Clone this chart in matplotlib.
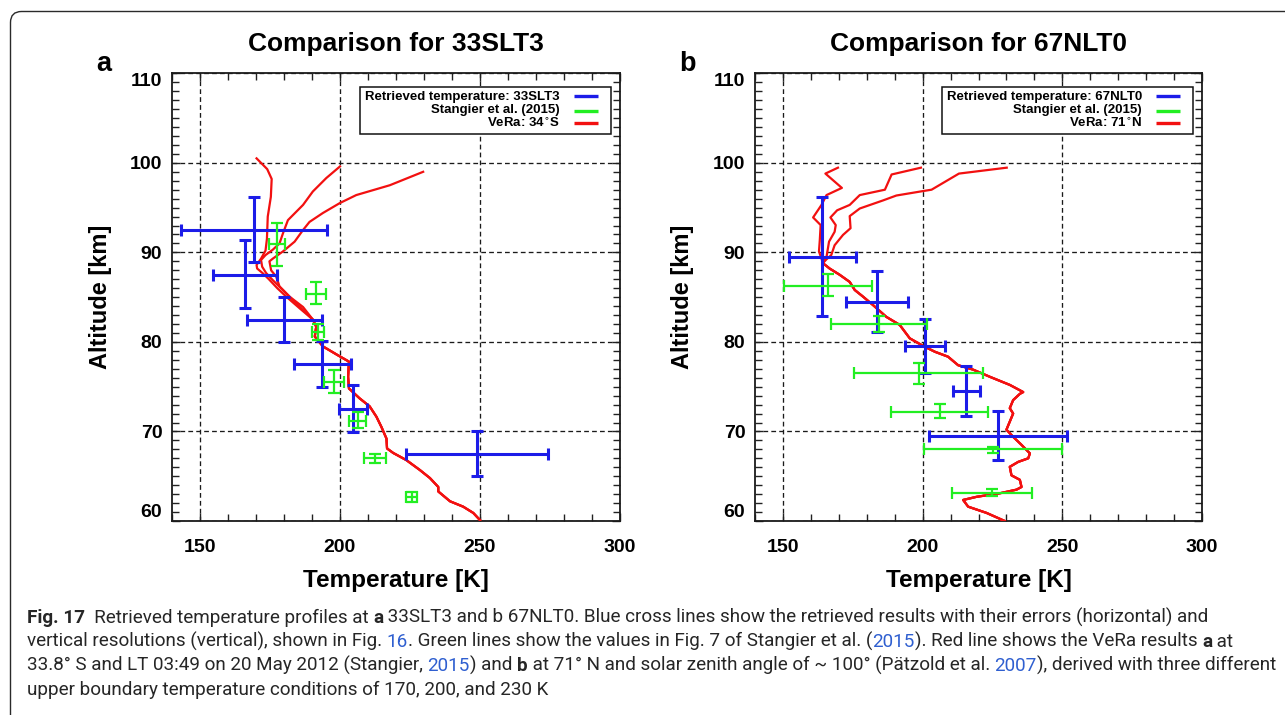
import numpy as np
import matplotlib
matplotlib.use("Agg")
import matplotlib.pyplot as plt
from matplotlib import font_manager
from matplotlib.font_manager import FontProperties
from matplotlib.lines import Line2D
from matplotlib.patches import FancyBboxPatch, Rectangle
from matplotlib.transforms import IdentityTransform
from matplotlib.ticker import MultipleLocator

W, H, DPI = 1285, 715, 100

# ---------------- panel a: 33SLT3 ----------------
ret_a_T = [169.2, 166.1, 180.1, 193.7, 204.6, 248.9]
ret_a_alt = [92.5, 87.5, 82.5, 77.5, 72.5, 67.5]
ret_a_xerr = [26.0, 11.5, 13.3, 10.2, 5.1, 25.4]
ret_a_lo = [88.9, 83.75, 80.0, 74.95, 69.9, 65.05]
ret_a_hi = [96.2, 91.35, 85.05, 80.1, 75.15, 70.1]

stg_a_T = [177.4, 191.4, 192.1, 197.8, 206.3, 212.4, 225.6]
stg_a_alt = [90.9, 85.4, 81.15, 75.55, 71.2, 67.0, 62.65]
stg_a_xerr = [2.8, 3.65, 2.15, 3.5, 3.15, 3.85, 1.95]
stg_a_lo = [88.5, 84.2, 80.2, 74.25, 70.35, 66.45, 62.1]
stg_a_hi = [93.25, 86.65, 82.0, 76.85, 72.15, 67.45, 63.2]

# VeRa 34 S, upper parts for boundary temperatures 170 / 200 / 230 K
vera_a_170_T = [170.2, 174.0, 175.6, 175.3, 174.2, 173.9, 173.4, 171.8, 170.2, 170.4, 172.3, 174.6, 177.6, 181.0, 185.6]
vera_a_170_alt = [100.5, 99.3, 98.2, 96.2, 94.0, 91.5, 90.2, 89.3, 88.6, 88.2, 87.7, 87.0, 86.0, 85.0, 83.75]
vera_a_200_T = [200.0, 195.1, 190.3, 186.8, 181.4, 179.6, 178.4, 176.0, 173.4, 171.8, 172.2, 173.6, 176.0, 179.6, 184.4]
vera_a_200_alt = [99.6, 98.3, 96.8, 95.3, 93.6, 92.1, 91.0, 90.3, 89.7, 89.15, 88.4, 87.7, 86.9, 85.8, 84.3]
vera_a_230_T = [229.7, 217.8, 205.8, 199.9, 193.9, 189.1, 186.8, 183.8, 179.6, 176.0, 174.8, 175.4, 177.2, 178.4, 182.0, 186.8]
vera_a_230_alt = [99.0, 97.5, 96.4, 95.5, 94.4, 93.4, 92.5, 91.2, 90.1, 89.3, 89.0, 88.0, 87.3, 86.2, 85.05, 83.9]
# shared lower part
vera_a_low_T = [190.3, 191.5, 191.0, 193.9, 199.3, 203.2, 202.9, 203.2, 207.0, 210.6, 213.0, 214.8, 216.6,
                216.8, 219.0, 223.7, 228.5, 232.1, 235.1, 235.1, 239.3, 244.0, 247.6, 250.0]
vera_a_low_alt = [82.5, 81.7, 80.6, 79.5, 78.5, 77.8, 76.1, 74.8, 73.7, 72.8, 71.65, 70.5, 69.2,
                  68.1, 67.6, 66.8, 65.7, 64.8, 63.8, 63.3, 62.2, 61.6, 60.9, 60.1]

# ---------------- panel b: 67NLT0 ----------------
ret_b_T = [164.1, 183.55, 200.95, 215.7, 226.9]
ret_b_alt = [89.5, 84.5, 79.5, 74.5, 69.5]
ret_b_xerr = [11.9, 11.05, 7.15, 5.0, 24.7]
ret_b_lo = [82.9, 81.15, 76.5, 71.75, 66.8]
ret_b_hi = [96.2, 87.9, 82.55, 77.3, 72.25]

stg_b_T = [166.2, 184.35, 198.55, 206.05, 225.25, 224.9]
stg_b_alt = [86.3, 82.05, 76.5, 72.2, 68.0, 63.15]
stg_b_xerr = [15.8, 17.05, 23.15, 17.45, 24.75, 14.3]
stg_b_lo = [85.15, 81.15, 75.3, 71.45, 67.55, 62.8]
stg_b_hi = [87.55, 82.9, 77.7, 73.05, 68.3, 63.55]

vera_b_170_T = [169.7, 165.2, 171.1, 165.6, 163.8, 160.8, 163.5, 163.2, 162.9, 163.8]
vera_b_170_alt = [99.46, 98.8, 97.2, 96.4, 95.3, 93.9, 93.05, 91.4, 90.1, 89.3]
vera_b_200_T = [199.4, 188.9, 186.5, 177.5, 173.9, 169.4, 167.0, 168.9, 168.5, 166.5, 165.6]
vera_b_200_alt = [99.46, 98.7, 97.0, 96.4, 95.3, 94.7, 93.9, 93.05, 92.3, 91.2, 89.5]
vera_b_230_T = [230.1, 213.0, 203.2, 200.2, 190.6, 185.8, 177.5, 173.9, 174.2, 171.5, 168.5, 167.3, 165.5]
vera_b_230_alt = [99.46, 98.8, 97.0, 96.85, 96.35, 95.8, 94.9, 94.05, 92.7, 91.95, 90.8, 89.7, 89.2]
vera_b_low_T = [164.3, 166.7, 170.3, 173.9, 175.7, 178.7, 182.3, 187.0, 191.8, 195.4, 200.2, 204.4, 209.1,
                212.7, 218.1, 224.1, 231.2, 236.0, 234.8, 232.4, 231.2, 232.4, 231.2, 230.0, 232.4,
                235.4, 238.4, 237.8, 234.2, 231.2, 231.8, 234.8, 235.4, 233.6, 227.7, 219.3, 214.5,
                216.3, 222.9, 229.4]
vera_b_low_alt = [88.8, 88.2, 87.5, 86.7, 85.8, 85.05, 84.1, 82.8, 81.9, 80.4, 79.55, 78.9, 78.35,
                  77.4, 76.9, 76.1, 75.2, 74.4, 74.2, 73.5, 72.6, 72.0, 71.1, 70.2, 69.4,
                  68.5, 67.55, 67.0, 66.6, 66.05, 65.1, 64.6, 63.8, 63.5, 63.1, 62.7, 62.35,
                  61.6, 60.9, 60.0]

x_ticks = [150, 200, 250, 300]
y_ticks = [60, 70, 80, 90, 100, 110]

titles = ["Comparison for 33SLT3", "Comparison for 67NLT0"]
panel_letters = ["a", "b"]
legend_labels_a = ["Retrieved temperature: 33SLT3", "Stangier et al. (2015)", "VeRa: 34$^{\\circ}$S"]
legend_labels_b = ["Retrieved temperature: 67NLT0", "Stangier et al. (2015)", "VeRa: 71$^{\\circ}$N"]

caption_lines = [
    [("Fig. 17", "b"), ("  Retrieved temperature profiles at ", "r"), ("a", "b"),
     (" 33SLT3 and b 67NLT0. Blue cross lines show the retrieved results with their errors (horizontal) and", "r")],
    [("vertical resolutions (vertical), shown in Fig. ", "r"), ("16", "l"),
     (". Green lines show the values in Fig. 7 of Stangier et al. (", "r"), ("2015", "l"),
     ("). Red line shows the VeRa results ", "r"), ("a", "b"), (" at", "r")],
    [("33.8\u00b0 S and LT 03:49 on 20 May 2012 (Stangier, ", "r"), ("2015", "l"), (") and ", "r"),
     ("b", "b"), (" at 71\u00b0 N and solar zenith angle of ~ 100\u00b0 (P\u00e4tzold et al. ", "r"),
     ("2007", "l"), ("), derived with three different", "r")],
    [("upper boundary temperature conditions of 170, 200, and 230 K", "r")],
]

BLUE = "#1c1ce8"
GREEN = "#22ee22"
RED = "#f21010"
FONT = "Liberation Sans"


def pick_family(names):
    for name in names:
        try:
            font_manager.findfont(FontProperties(family=name), fallback_to_default=False)
            return name
        except Exception:
            continue
    return "DejaVu Sans"


CAP_FONT = pick_family(["Liberation Sans Narrow", "Roboto", "Open Sans"])

fig = plt.figure(figsize=(W / DPI, H / DPI), dpi=DPI)
fig.patch.set_facecolor("white")


def fx(x):
    return x / W


def fy(y):
    return 1 - y / H


def px_axes(left, top, right, bottom):
    return fig.add_axes([left / W, 1 - bottom / H, (right - left) / W, (bottom - top) / H])


def cross(ax, T, alt, xerr, lo, hi, color, lw, cap):
    T = np.asarray(T); alt = np.asarray(alt)
    yerr = [alt - np.asarray(lo), np.asarray(hi) - alt]
    ax.errorbar(T, alt, xerr=xerr, yerr=yerr, fmt="none", ecolor=color,
                elinewidth=lw, capsize=cap, capthick=lw, zorder=4)


def style_axes(ax):
    ax.set_xlim(140, 300)
    ax.set_ylim(60, 110)
    ax.set_xticks(x_ticks)
    ax.set_yticks(y_ticks)
    ax.xaxis.set_minor_locator(MultipleLocator(10))
    ax.yaxis.set_minor_locator(MultipleLocator(1))
    ax.tick_params(which="both", direction="in", top=True, right=True, width=1.0, color="#222222")
    ax.tick_params(which="major", length=6)
    ax.tick_params(which="minor", length=5)
    ax.tick_params(axis="x", which="major", pad=13)
    ax.tick_params(axis="y", which="major", pad=7)
    for lab in ax.get_xticklabels() + ax.get_yticklabels():
        lab.set_fontfamily(FONT)
        lab.set_fontweight("bold")
        lab.set_fontsize(14)
    for tk in ax.yaxis.get_major_ticks():
        v = tk.get_loc()
        if v == 110:
            tk.label1.set_va("top")
        elif v == 60:
            tk.label1.set_va("bottom")
    ax.grid(which="major", color="#1a1a1a", linestyle=(0, (3.6, 2.4)), linewidth=0.95)
    for sp in ax.spines.values():
        sp.set_linewidth(1.3)
        sp.set_color("#1a1a1a")


def legend_box(right, labels):
    """Legend with right-aligned labels and the line samples on the right."""
    fig.add_artist(Rectangle((fx(right - 260), fy(134)), 251 / W, (134 - 86.7) / H,
                             transform=fig.transFigure, facecolor="white",
                             edgecolor="#111111", linewidth=1.1, zorder=6))
    colors = [BLUE, GREEN, RED]
    text_base = [100, 113.5, 127]
    line_y = [95.7, 110.5, 123.3]
    for lab, c, yb, yl in zip(labels, colors, text_base, line_y):
        fig.text(fx(right - 60), fy(yb), lab, ha="right", va="baseline", zorder=7,
                 fontfamily=FONT, fontweight="bold", fontsize=9.5)
        fig.add_artist(Line2D([fx(right - 46.5), fx(right - 22)], [fy(yl), fy(yl)],
                              transform=fig.transFigure, color=c, lw=2.4, zorder=7,
                              solid_capstyle="butt"))


panels = [
    dict(box=(172, 73.3, 620, 521),
         ret=(ret_a_T, ret_a_alt, ret_a_xerr, ret_a_lo, ret_a_hi),
         stg=(stg_a_T, stg_a_alt, stg_a_xerr, stg_a_lo, stg_a_hi),
         vera=[(vera_a_170_T, vera_a_170_alt), (vera_a_200_T, vera_a_200_alt), (vera_a_230_T, vera_a_230_alt)],
         low=(vera_a_low_T, vera_a_low_alt),
         labels=legend_labels_a),
    dict(box=(755, 73.3, 1202, 521),
         ret=(ret_b_T, ret_b_alt, ret_b_xerr, ret_b_lo, ret_b_hi),
         stg=(stg_b_T, stg_b_alt, stg_b_xerr, stg_b_lo, stg_b_hi),
         vera=[(vera_b_170_T, vera_b_170_alt), (vera_b_200_T, vera_b_200_alt), (vera_b_230_T, vera_b_230_alt)],
         low=(vera_b_low_T, vera_b_low_alt),
         labels=legend_labels_b),
]

for i, p in enumerate(panels):
    left, top, right, bottom = p["box"]
    ax = px_axes(left, top, right, bottom)
    for upT, upA in p["vera"]:
        ax.plot(np.concatenate([upT, p["low"][0]]), np.concatenate([upA, p["low"][1]]),
                color=RED, lw=1.6, zorder=3)
    cross(ax, *p["ret"], color=BLUE, lw=2.2, cap=4.6)
    cross(ax, *p["stg"], color=GREEN, lw=1.6, cap=4.0)
    style_axes(ax)
    legend_box(right, p["labels"])

    cx = (left + right) / 2
    fig.text(fx(cx), fy(51), titles[i], ha="center", va="baseline",
             fontfamily=FONT, fontweight="bold", fontsize=19)
    fig.text(fx(left - 76), fy(71), panel_letters[i], ha="left", va="baseline",
             fontfamily=FONT, fontweight="bold", fontsize=19.5)
    fig.text(fx(cx), fy(587), "Temperature [K]", ha="center", va="baseline",
             fontfamily=FONT, fontweight="bold", fontsize=17.5)
    fig.text(fx(left - 72), fy(297), "Altitude [km]", ha="center", va="center", rotation=90,
             fontfamily=FONT, fontweight="bold", fontsize=17)

# rounded frame around the figure
frame = FancyBboxPatch((10.5, -12), 1310, 715 - 11.5 + 12,
                       boxstyle="round,pad=0,rounding_size=11",
                       transform=IdentityTransform(), facecolor="none",
                       edgecolor="#2a2a2a", linewidth=1.0)
fig.patches.append(frame)

# caption with mixed styles
fig.canvas.draw()
renderer = fig.canvas.get_renderer()
CAP_COLOR = "#262626"
LINK_COLOR = "#2f5fd0"


def cap_prop(style, size):
    return FontProperties(family=CAP_FONT, weight="bold" if style == "b" else "normal", size=size)


def advance(s, prop):
    w1 = renderer.get_text_width_height_descent("|" + s + "|", prop, ismath=False)[0]
    w0 = renderer.get_text_width_height_descent("||", prop, ismath=False)[0]
    return w1 - w0


def line_width(pieces, size):
    return sum(advance(s, cap_prop(st, size)) for s, st in pieces)


x0 = 27
base = 12.0
s1 = (1232 - x0) / line_width(caption_lines[0], base)
s3 = (1274 - x0) / line_width(caption_lines[2], base)
cap_size = base * min(s1, s3)
baselines = [623, 647, 671, 695]

for pieces, yb in zip(caption_lines, baselines):
    x = x0
    for s, st in pieces:
        prop = cap_prop(st, cap_size)
        fig.text(fx(x), fy(yb), s, fontproperties=prop, ha="left", va="baseline",
                 color=LINK_COLOR if st == "l" else CAP_COLOR)
        x += advance(s, prop)

fig.savefig("out.png", dpi=DPI, facecolor="white")
